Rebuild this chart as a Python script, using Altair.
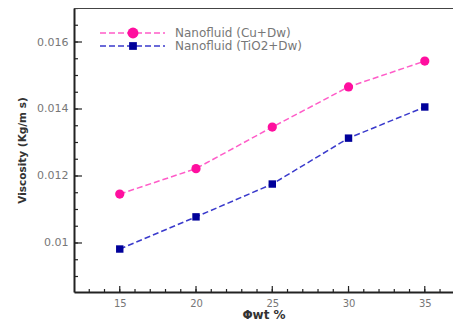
import altair as alt
import pandas as pd

# ---- data ----
wt = [15, 20, 25, 30, 35]
cu_visc = [0.01146, 0.01222, 0.01346, 0.01466, 0.01543]
tio2_visc = [0.00982, 0.01078, 0.01176, 0.01313, 0.01406]
series_names = ["Nanofluid (Cu+Dw)", "Nanofluid (TiO2+Dw)"]
y_major = [0.010, 0.012, 0.014, 0.016]
y_minor = [round(0.0090 + 0.0005 * i, 4) for i in range(17)]
x_major = [15, 20, 25, 30, 35]
x_minor = list(range(13, 37))

W, H = 379, 284
FONT = "DejaVu Sans"
xs = alt.Scale(domain=[12, 36.85], nice=False, zero=False)
ys = alt.Scale(domain=[0.008537, 0.017015], nice=False, zero=False)

xaxis = alt.Axis(values=x_major, tickSize=0, labelPadding=6, grid=False,
                 domainColor="#222", domainWidth=2, title="Φwt %",
                 labelColor="#777", labelFontSize=10, labelFont=FONT,
                 titleFont=FONT, titleFontSize=12, titleFontWeight="bold",
                 titleColor="#333", titlePadding=1)
yaxis = alt.Axis(values=y_major, format=".3~f", tickSize=0, labelPadding=6,
                 grid=False, domainColor="#222", domainWidth=2, title="Viscosity (Kg/m s)",
                 labelColor="#777", labelFontSize=11, labelFont=FONT,
                 titleFont=FONT, titleFontSize=10.5, titleFontWeight="bold",
                 titleColor="#333", titlePadding=9)

def X(f):
    return alt.X(f, scale=xs, axis=xaxis, title="Φwt %")

def Y(f):
    return alt.Y(f, scale=ys, axis=yaxis, title="Viscosity (Kg/m s)")

styles = [
    dict(line="#ff5cc8", mark="#ff0f9f", shape="circle", size=85, lsize=120),
    dict(line="#3a3acc", mark="#00009a", shape="square", size=55, lsize=60),
]
vals = [cu_visc, tio2_visc]

layers = []

# series
for name, v, st in zip(series_names, vals, styles):
    df = pd.DataFrame({"x": wt, "y": v})
    layers.append(alt.Chart(df).mark_line(color=st["line"], strokeWidth=1.5,
                                          strokeDash=[6, 3]).encode(
        x=X("x:Q"), y=Y("y:Q")))
    layers.append(alt.Chart(df).mark_point(color=st["mark"], filled=True, opacity=1,
                                           shape=st["shape"], size=st["size"]).encode(
        x=X("x:Q"), y=Y("y:Q")))

# inward ticks
def yticks(values, length):
    df = pd.DataFrame({"v": values})
    return alt.Chart(df).mark_rule(color="#222", strokeWidth=1.2).encode(
        y=Y("v:Q"), x=alt.value(0), x2=alt.value(length))

def xticks(values, length):
    df = pd.DataFrame({"v": values})
    return alt.Chart(df).mark_rule(color="#222", strokeWidth=1.2).encode(
        x=X("v:Q"), y=alt.value(H), y2=alt.value(H - length))

layers += [yticks(y_minor, 4), yticks(y_major, 8), xticks(x_minor, 3), xticks(x_major, 6)]

# top frame line
layers.append(alt.Chart(pd.DataFrame({"a": [0]})).mark_rule(color="#444", strokeWidth=2).encode(
    x=alt.value(0), x2=alt.value(W), y=alt.value(0)))

# legend
leg_y = [25, 38]
for i, (name, st) in enumerate(zip(series_names, styles)):
    d = pd.DataFrame({"label": [name]})
    layers.append(alt.Chart(d).mark_rule(color=st["line"], strokeWidth=1.5,
                                         strokeDash=[6, 3]).encode(
        x=alt.value(26), x2=alt.value(91), y=alt.value(leg_y[i])))
    layers.append(alt.Chart(d).mark_point(color=st["mark"], filled=True, opacity=1,
                                          shape=st["shape"], size=st["lsize"]).encode(
        x=alt.value(59), y=alt.value(leg_y[i])))
    layers.append(alt.Chart(d).mark_text(align="left", baseline="middle", font=FONT,
                                         fontSize=12, color="#777").encode(
        x=alt.value(101), y=alt.value(leg_y[i]), text="label:N"))

chart = alt.layer(*layers).properties(
    width=W, height=H,
    autosize=alt.AutoSizeParams(type="none"),
    padding={"left": 66, "top": 0, "right": 0, "bottom": 32},
).configure_view(stroke=None).configure(background="white")

chart.save("out.html", embed_options={"renderer": "svg", "actions": False})
